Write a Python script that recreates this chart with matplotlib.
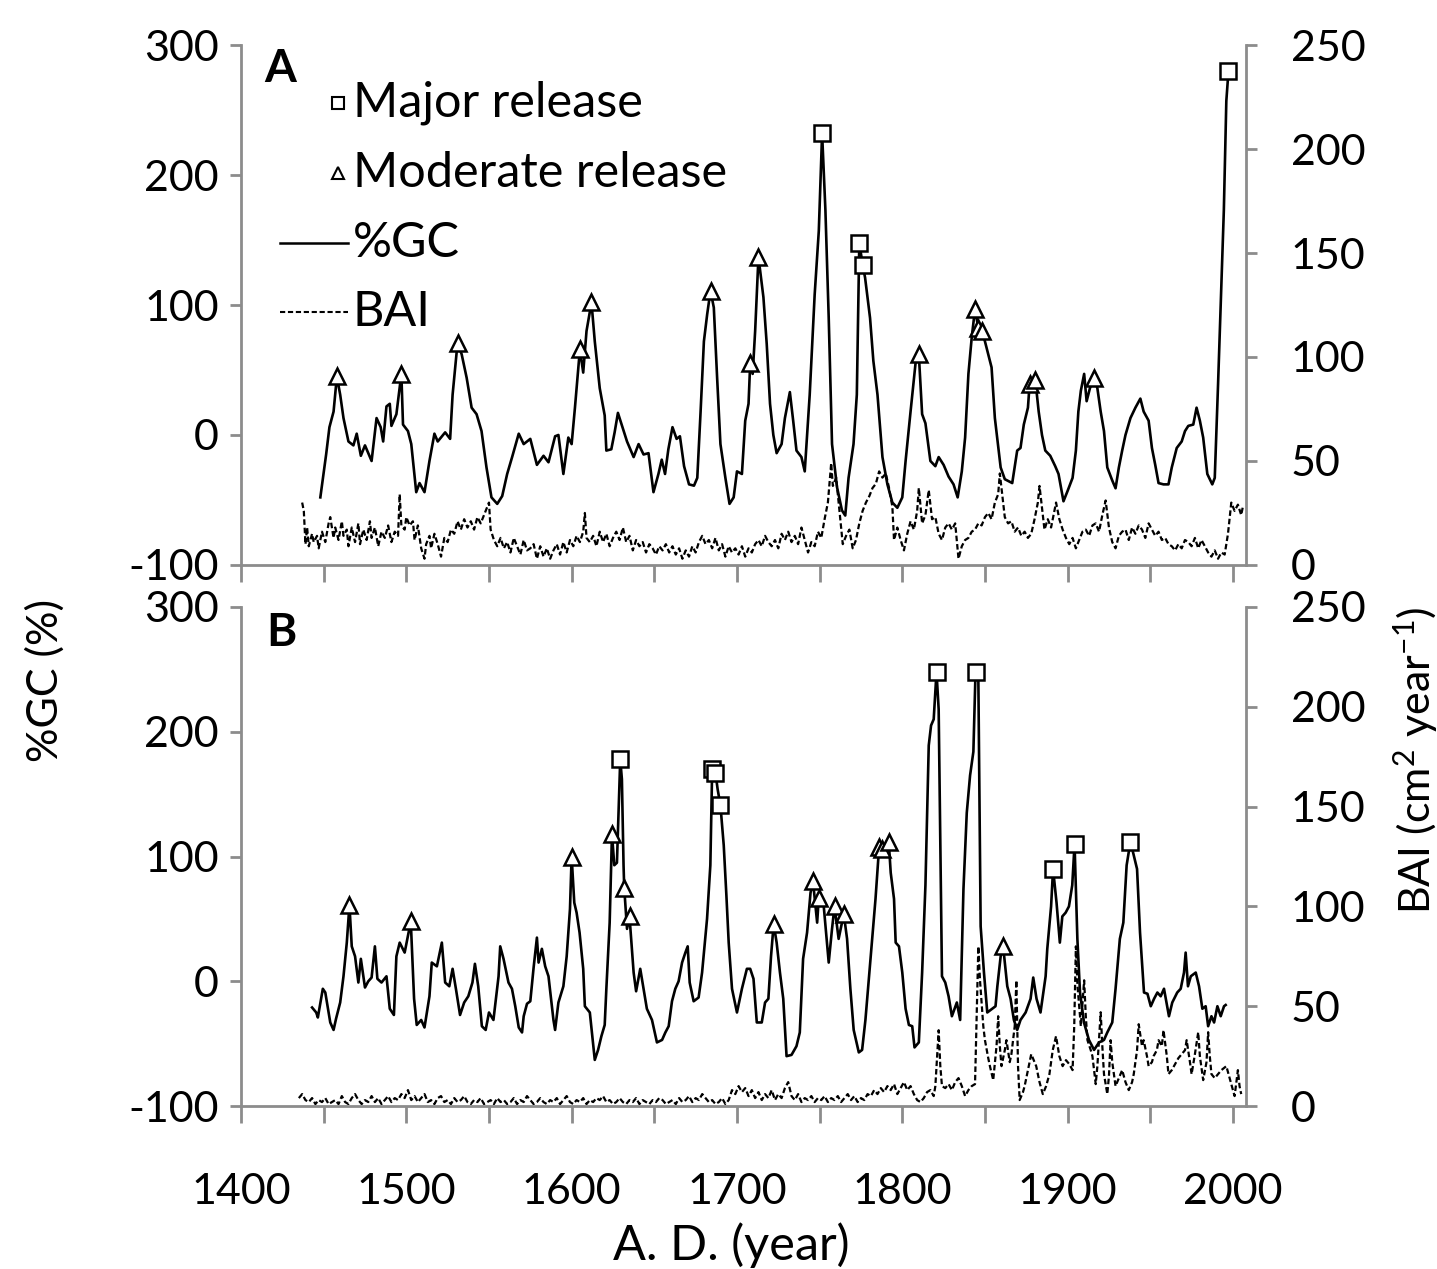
import numpy as np
import matplotlib
matplotlib.use("Agg")
import matplotlib.pyplot as plt
from matplotlib.lines import Line2D

plt.rcParams['font.family'] = ['Lato', 'DejaVu Sans']
plt.rcParams['mathtext.fontset'] = 'custom'
plt.rcParams['mathtext.rm'] = 'Lato'
plt.rcParams['mathtext.it'] = 'Lato:italic'
plt.rcParams['mathtext.bf'] = 'Lato:bold'
plt.rcParams['axes.unicode_minus'] = False

# ---- panel A : %GC (left axis) ----
gc_a_year = [1448, 1451.5, 1453.5, 1456, 1458, 1460, 1462, 1465, 1468, 1470, 1472.5, 1475, 1479, 1482, 1484.5, 1486,
             1488, 1490, 1491, 1494, 1497, 1498, 1501, 1503, 1506, 1508, 1511, 1514, 1517, 1519, 1523.5, 1526.5,
             1528, 1531, 1533.5, 1536.5, 1539.5, 1542.5, 1545.5, 1548.5, 1551.5, 1555, 1558, 1561, 1564, 1568,
             1571, 1575, 1579, 1583, 1586, 1590, 1592, 1595, 1598, 1600, 1602, 1605, 1607, 1609, 1612, 1614,
             1617, 1620, 1621, 1624, 1626, 1628, 1630, 1633.5, 1637.5, 1640.5, 1643.5, 1646.5, 1649.5, 1652.5,
             1654.5, 1656.5, 1658.5, 1661, 1663.5, 1665.5, 1668, 1671, 1674, 1676, 1678, 1680, 1682, 1684, 1686,
             1688, 1690, 1693, 1695.5, 1698, 1700, 1703, 1705, 1707, 1708, 1709.5, 1711, 1713, 1716, 1718, 1720,
             1722, 1724, 1727, 1729, 1732, 1734, 1736, 1739, 1741, 1744, 1747, 1749.5, 1751.5, 1753.5, 1755.5,
             1757.5, 1760.5, 1763.5, 1765.5, 1767.5, 1770.5, 1772.5, 1774, 1776, 1777.5, 1780.5, 1782.5, 1785,
             1788, 1791, 1794, 1797, 1800, 1802, 1805, 1808, 1810, 1812, 1814, 1817, 1820, 1822, 1825, 1828,
             1831, 1833.5, 1836, 1838, 1840, 1842, 1844, 1846, 1848, 1850, 1852, 1854, 1856, 1859.5, 1862,
             1866.5, 1869.5, 1871.5, 1873.5, 1876, 1877, 1879, 1880.5, 1882.5, 1884.5, 1886.5, 1889.5, 1892.5,
             1894.5, 1897.5, 1900, 1903, 1905, 1906.5, 1908, 1910, 1911.5, 1913.5, 1916, 1918, 1920, 1922, 1924,
             1927, 1929, 1931, 1933, 1935, 1938, 1941, 1944, 1946, 1949, 1951, 1953, 1955, 1958, 1961, 1963,
             1966, 1969, 1971, 1973, 1976, 1978, 1980, 1982, 1984.5, 1987.5, 1989, 1991, 1993, 1994.5, 1996,
             1997.3]
gc_a_val = [-48, -15, 6, 18, 45, 31, 13, -5, -8, 1, -16, -8, -20, 13, 6, -5,
            22, 24, 7, 16, 47, 8, 3, -7, -44, -37, -44, -20, 1, -5, 2, -3,
            31, 71, 62, 44, 21, 16, 3, -25, -48, -53, -47, -30, -17, 1,
            -7, -3, -23, -16, -21, -1, 0, -30, -2, -7, 21, 66, 48, 80, 102, 72,
            36, 15, -12, -11, 2, 17, 9, -5, -17, -7, -15, -14, -44, -30,
            -19, -30, -11, 6, -3, -1, -24, -38, -39, -33, 18, 72, 93, 111, 98,
            44, -7, -33, -53, -48, -28, -30, 11, 24, 55, 47, 80, 137, 106, 70, 24,
            0, -14, -7, 13, 33, 11, -12, -17, -28, 31, 108, 157, 232, 173, 90,
            -7, -40, -58, -62, -33, -7, 31, 148, 131, 121, 90, 57, 31,
            -17, -38, -52, -56, -48, -20, 18, 55, 62, 16, 9, -20, -24, -17, -23, -32,
            -38, -48, -28, -2, 47, 75, 97, 82, 80, 72, 62, 52, 13, -25, -34,
            -37, -12, -10, 8, 21, 39, 35, 42, 18, 0, -12, -16, -24,
            -30, -51, -43, -33, -12, 18, 34, 47, 26, 36, 44, 36, 18, 3, -25,
            -35, -41, -25, -12, 0, 13, 21, 28, 18, 11, -10, -23, -37, -38, -38, -25,
            -10, -5, 3, 7, 8, 21, 11, -2, -30, -38, -33, 39, 116, 173, 257,
            280]

# release markers, panel A
major_a_year = [1751.5, 1774, 1776, 1997.3]
major_a_val = [232, 148, 131, 280]
moder_a_year = [1458, 1497, 1531, 1605, 1612, 1684, 1708, 1713, 1810, 1844, 1846, 1848, 1877, 1880.5, 1916]
moder_a_val = [45, 47, 71, 66, 102, 111, 55, 137, 62, 97, 82, 80, 39, 42, 44]

# ---- panel A : BAI (right axis) ----
bai_a_year = [1437, 1438, 1439, 1440, 1441, 1443, 1444, 1446, 1447, 1449, 1451, 1453, 1454, 1456, 1457, 1459,
              1461, 1462, 1464, 1465, 1467, 1469, 1471, 1472, 1474, 1476, 1478, 1479, 1481, 1483, 1485, 1487,
              1489, 1491, 1493, 1495, 1496, 1497, 1499, 1500, 1502, 1504, 1505, 1507, 1509, 1511, 1512, 1514,
              1515, 1517, 1519, 1521, 1523, 1525, 1527, 1529, 1531, 1533, 1535, 1537, 1539, 1541, 1543, 1545,
              1547, 1549, 1550, 1551, 1553, 1555, 1557, 1559, 1561, 1563, 1565, 1567, 1569, 1571, 1573, 1575,
              1577, 1579, 1581, 1583, 1585, 1587, 1589, 1591, 1593, 1595, 1597, 1599, 1601, 1603, 1605, 1607,
              1608, 1609, 1611, 1613, 1615, 1617, 1619, 1621, 1623, 1625, 1627, 1629, 1631, 1633, 1635, 1637,
              1639, 1641, 1643, 1645, 1647, 1649, 1651, 1653, 1655, 1657, 1659, 1661, 1663, 1665, 1667, 1669,
              1671, 1673, 1675, 1677, 1679, 1681, 1683, 1685, 1687, 1689, 1691, 1693, 1695, 1697, 1699, 1701,
              1703, 1705, 1707, 1709, 1711, 1713, 1715, 1717, 1719, 1721, 1723, 1725, 1727, 1729, 1731, 1733,
              1735, 1737, 1739, 1741, 1743, 1745, 1747, 1749, 1751, 1753, 1755, 1757, 1758, 1760, 1762, 1764,
              1766, 1768, 1770, 1772, 1774, 1776, 1778, 1780, 1782, 1784, 1786, 1788, 1790, 1792, 1794, 1795,
              1797, 1799, 1801, 1803, 1805, 1807, 1809, 1810, 1812, 1814, 1816, 1818, 1820, 1822, 1824, 1826,
              1828, 1830, 1832, 1834, 1836, 1838, 1840, 1842, 1844, 1846, 1848, 1850, 1852, 1854, 1856, 1858,
              1859, 1861, 1862, 1864, 1866, 1868, 1870, 1872, 1874, 1876, 1878, 1880, 1882, 1883, 1885, 1886,
              1888, 1890, 1892, 1893, 1895, 1897, 1899, 1901, 1903, 1905, 1907, 1909, 1911, 1913, 1915, 1917,
              1919, 1921, 1923, 1925, 1927, 1929, 1931, 1933, 1935, 1937, 1939, 1941, 1943, 1945, 1947, 1949,
              1951, 1953, 1955, 1957, 1959, 1961, 1963, 1965, 1967, 1969, 1971, 1973, 1975, 1977, 1979, 1981,
              1983, 1985, 1987, 1989, 1991, 1993, 1995, 1997, 1999, 2001, 2003, 2005, 2006]
bai_a_val = [30, 26, 10, 18, 9, 15, 11, 14, 8, 16, 11, 20, 23, 13, 18, 12,
             21, 14, 17, 9, 18, 11, 20, 10, 17, 12, 21, 13, 18, 9, 16, 13,
             19, 11, 16, 14, 34, 19, 17, 23, 19, 21, 12, 19, 8, 3, 10, 14,
             8, 15, 10, 4, 13, 11, 17, 15, 21, 17, 22, 18, 21, 17, 23, 20,
             24, 28, 30, 17, 12, 9, 13, 8, 11, 6, 13, 9, 5, 12, 7, 8,
             10, 3, 9, 4, 8, 3, 7, 10, 5, 11, 6, 12, 9, 14, 11, 16,
             25, 13, 11, 14, 9, 16, 11, 15, 9, 13, 16, 12, 18, 11, 14, 7,
             12, 9, 11, 6, 10, 8, 5, 9, 7, 10, 6, 9, 5, 8, 3, 7,
             4, 9, 6, 11, 14, 10, 12, 8, 13, 7, 10, 4, 9, 6, 8, 5,
             9, 4, 8, 6, 10, 12, 9, 14, 11, 9, 12, 8, 15, 12, 16, 11,
             14, 10, 18, 12, 6, 11, 9, 16, 13, 22, 30, 49, 38, 42, 26, 10,
             14, 17, 8, 12, 20, 26, 30, 33, 37, 39, 45, 42, 44, 37, 28, 12,
             18, 12, 7, 15, 21, 17, 26, 37, 20, 24, 36, 22, 23, 15, 12, 18,
             20, 17, 20, 3, 9, 12, 13, 16, 17, 20, 19, 23, 25, 22, 30, 34,
             44, 30, 23, 20, 21, 16, 18, 14, 16, 13, 15, 22, 30, 38, 24, 17,
             22, 18, 26, 30, 22, 17, 13, 10, 13, 8, 12, 16, 17, 14, 19, 20,
             16, 24, 31, 18, 11, 8, 14, 16, 17, 12, 18, 15, 19, 17, 13, 20,
             17, 14, 16, 12, 13, 10, 9, 7, 10, 8, 12, 11, 9, 13, 8, 12,
             9, 6, 4, 7, 3, 6, 5, 15, 30, 26, 29, 24, 28]

# ---- panel B : %GC (left axis) ----
gc_b_year = [1443, 1445.5, 1446.5, 1449.5, 1451, 1454, 1456, 1457.5, 1460, 1462, 1464, 1465.6, 1467, 1469, 1471,
             1472.5, 1475, 1477, 1479, 1481, 1482.5, 1485, 1488, 1490, 1492.5, 1494, 1496, 1499, 1502.7, 1504.7,
             1506.3, 1509, 1511, 1514, 1515.4, 1518.5, 1521.5, 1523.5, 1526, 1528, 1530, 1532.5, 1535, 1537.5,
             1540, 1541.5, 1543.5, 1545.7, 1548, 1550, 1552.7, 1555.8, 1556.8, 1558.8, 1561.8, 1563.9, 1565.9,
             1568, 1570, 1571, 1573, 1575, 1577, 1579, 1580, 1582, 1584, 1586, 1589, 1590, 1592, 1595, 1597,
             1599, 1600, 1601.6, 1603, 1604.8, 1607, 1608, 1611, 1614, 1616, 1618, 1620, 1621, 1623, 1624.4,
             1625.8, 1627.4, 1629.4, 1630.4, 1631.4, 1631.8, 1633.5, 1635, 1637.5, 1639, 1641.5, 1643.5, 1645.5,
             1648.6, 1651.6, 1654.7, 1656.7, 1658.7, 1660.7, 1662.7, 1664.7, 1666.8, 1668.8, 1670.2, 1671.4,
             1673.8, 1676.8, 1678.9, 1681.9, 1683.9, 1685, 1687, 1688.3, 1690, 1692, 1693.6, 1695, 1697, 1700,
             1703, 1706, 1708, 1710, 1712, 1715, 1717, 1719, 1720.6, 1722.2, 1724, 1726, 1728, 1730, 1733, 1736,
             1738, 1740, 1742.4, 1744.5, 1746, 1748.5, 1749.5, 1752.5, 1755.5, 1757.5, 1759, 1761.5, 1764.6,
             1766.6, 1768.6, 1770.6, 1773.7, 1775.7, 1777.7, 1780.8, 1783.8, 1786, 1788, 1789.8, 1791.8, 1793,
             1795, 1796, 1798, 1800, 1802, 1804, 1806, 1807.4, 1810, 1812, 1814, 1816, 1817.4, 1819, 1820.7,
             1822, 1823, 1824, 1826, 1828, 1830, 1833, 1835, 1837, 1839, 1841, 1843, 1844.3, 1846, 1847.4,
             1849.4, 1851.4, 1854.4, 1856.4, 1857.5, 1859.5, 1861, 1863.5, 1865.5, 1867.5, 1869.5, 1871.5,
             1874.6, 1877.6, 1879.2, 1881.2, 1883.6, 1886.7, 1887.7, 1890, 1891.2, 1893.3, 1895.3, 1896.8,
             1898.8, 1900.8, 1902.8, 1904.2, 1905.9, 1907.5, 1909.9, 1912.9, 1916, 1919, 1922, 1924, 1927,
             1929, 1931.6, 1933.7, 1935.7, 1938, 1940, 1942, 1943.8, 1946.2, 1948.3, 1950.3, 1952.3, 1954.3,
             1956.3, 1958.3, 1961.3, 1963.3, 1966.3, 1968.4, 1970.4, 1971.4, 1972.8, 1974.5, 1977.5, 1979.5,
             1981.5, 1983.5, 1985, 1987, 1988.6, 1990.6, 1992.6, 1994.6, 1995.6]
gc_b_val = [-21, -25, -29, -6, -9, -33, -39, -30, -17, 4, 31, 61, 28, 20, -1,
            18, -5, 0, 3, 28, 2, -1, 4, -22, -27, 20, 31, 23, 48, -14,
            -35, -31, -37, -12, 15, 12, 31, -1, -4, 10, -6, -27, -17, -12,
            -1, 14, -4, -36, -39, -25, -31, 4, 28, 18, -1, -6, -20,
            -37, -41, -28, -18, -16, 11, 35, 15, 26, 12, 4, -31, -39, -17, -4, 20,
            58, 100, 63, 55, 39, 10, -20, -25, -63, -55, -44, -35, -6, 47, 118,
            93, 95, 178, 162, 93, 75, 42, 52, 7, -8, 10, -6, -22,
            -31, -49, -47, -41, -36, -16, -6, 0, 15, 23, 28, -1,
            -16, -13, 7, 50, 93, 170, 167, 154, 141, 109, 69, 31, -6, -25,
            -6, 10, 10, 2, -33, -33, -17, -14, 20, 46, 31, 7, -14, -60, -59, -52,
            -41, 18, 39, 71, 80, 47, 67, 60, 15, 42, 60, 34, 54,
            34, -6, -39, -57, -55, -31, 18, 66, 108, 106, 108, 112, 87,
            66, 31, 28, 7, -22, -35, -36, -53, -49, 7, 77, 189, 205, 210, 248,
            218, 114, 4, -1, -12, -28, -17, -31, 74, 135, 165, 184, 248, 243, 44,
            7, -25, -22, -20, -4, 20, 28, -4, -14, -31, -39, -31,
            -25, -14, 3, -14, -25, 4, 26, 60, 90, 63, 31, 52,
            55, 60, 77, 110, 34, -9, -33, -47, -55, -49, -47, -41, -33,
            -6, 34, 47, 93, 112, 101, 90, 39, -9, -10, -20, -14, -9,
            -12, -6, -28, -17, -9, -6, 7, 23, -4, 4, 7, -4,
            -22, -20, -36, -28, -33, -20, -28, -20, -19]

# release markers, panel B
major_b_year = [1629.4, 1685, 1687, 1690, 1820.7, 1844.3, 1891.2, 1904.2, 1938]
major_b_val = [178, 170, 167, 141, 248, 248, 90, 110, 112]
moder_b_year = [1465.6, 1502.7, 1600, 1624.4, 1631.8, 1635, 1722.2, 1746, 1749.5, 1759, 1764.6,
                1786, 1788, 1791.8, 1861]
moder_b_val = [61, 48, 100, 118, 75, 52, 46, 80, 67, 60, 54, 108, 106, 112, 28]

# ---- panel B : BAI (right axis) ----
bai_b_year = [1435, 1437, 1439, 1441, 1443, 1445, 1447, 1449, 1451, 1453, 1455, 1457, 1459, 1461, 1463, 1465,
              1467, 1469, 1471, 1473, 1475, 1477, 1479, 1481, 1483, 1485, 1487, 1489, 1491, 1493, 1495, 1497,
              1499, 1501, 1503, 1505, 1507, 1509, 1511, 1513, 1515, 1517, 1519, 1521, 1523, 1525, 1527, 1529,
              1531, 1533, 1535, 1537, 1539, 1541, 1543, 1545, 1547, 1549, 1551, 1553, 1555, 1557, 1559, 1561,
              1563, 1565, 1567, 1569, 1571, 1573, 1575, 1577, 1579, 1581, 1583, 1585, 1587, 1589, 1591, 1593,
              1595, 1597, 1599, 1601, 1603, 1605, 1607, 1609, 1611, 1613, 1615, 1617, 1619, 1621, 1623, 1625,
              1627, 1629, 1631, 1633, 1635, 1637, 1639, 1641, 1643, 1645, 1647, 1649, 1651, 1653, 1655, 1657,
              1659, 1661, 1663, 1665, 1667, 1669, 1671, 1673, 1675, 1677, 1679, 1681, 1683, 1685, 1687, 1689,
              1691, 1693, 1695, 1697, 1699, 1701, 1703, 1705, 1707, 1709, 1711, 1713, 1715, 1717, 1719, 1721,
              1723, 1725, 1727, 1729, 1731, 1733, 1735, 1737, 1739, 1741, 1743, 1745, 1747, 1749, 1751, 1753,
              1755, 1757, 1759, 1761, 1763, 1765, 1767, 1769, 1771, 1773, 1775, 1777, 1779, 1781, 1783, 1785,
              1787, 1789, 1791, 1793, 1795, 1797, 1799, 1801, 1803, 1805, 1807, 1809, 1811, 1813, 1815, 1817,
              1819, 1820, 1822, 1823, 1824, 1826, 1828, 1830, 1832, 1834, 1836, 1838, 1840, 1842, 1844, 1846,
              1847, 1849, 1850, 1852, 1853, 1855, 1857, 1858, 1859, 1860, 1862, 1863, 1865, 1866, 1868, 1869,
              1870, 1871, 1873, 1874, 1876, 1878, 1880, 1881, 1883, 1885, 1887, 1889, 1891, 1893, 1895, 1897,
              1899, 1901, 1903, 1904, 1905, 1906, 1907, 1908, 1910, 1911, 1912, 1914, 1915, 1917, 1918, 1920,
              1921, 1922, 1924, 1925, 1926, 1927, 1929, 1931, 1933, 1935, 1937, 1939, 1940, 1942, 1943, 1945,
              1946, 1948, 1949, 1951, 1952, 1954, 1955, 1957, 1958, 1960, 1961, 1963, 1965, 1967, 1969, 1971,
              1972, 1974, 1975, 1977, 1979, 1980, 1982, 1984, 1985, 1986, 1987, 1989, 1991, 1993, 1996, 1998,
              1999, 2001, 2003, 2004, 2005]
bai_b_val = [4, 6, 3, 2, 4, 1, 3, 2, 4, 1, 2, 3, 1, 5, 2, 1,
             4, 6, 3, 1, 3, 2, 5, 2, 4, 1, 3, 5, 2, 4, 3, 6,
             4, 8, 3, 5, 2, 4, 6, 2, 3, 1, 4, 5, 2, 3, 1, 4,
             2, 3, 5, 2, 1, 3, 2, 4, 1, 2, 3, 1, 4, 2, 3, 1,
             2, 4, 1, 3, 2, 5, 3, 1, 2, 4, 2, 1, 3, 2, 4, 1,
             3, 5, 2, 1, 3, 2, 4, 1, 3, 2, 4, 3, 5, 2, 3, 1,
             2, 4, 2, 1, 3, 2, 4, 1, 3, 2, 1, 3, 2, 4, 3, 1,
             2, 3, 1, 4, 2, 3, 5, 2, 4, 3, 6, 4, 2, 3, 1, 2,
             4, 1, 3, 8, 6, 10, 7, 9, 5, 8, 4, 7, 3, 6, 4, 8,
             3, 6, 4, 9, 12, 5, 3, 6, 2, 4, 3, 5, 2, 4, 3, 5,
             2, 4, 3, 5, 2, 4, 6, 3, 5, 2, 4, 3, 6, 5, 8, 6,
             9, 7, 10, 8, 11, 6, 9, 12, 8, 10, 6, 3, 2, 4, 7, 8,
             5, 10, 38, 20, 10, 9, 11, 8, 12, 14, 10, 5, 8, 10, 11, 80,
             63, 40, 33, 24, 20, 13, 30, 45, 30, 20, 28, 33, 22, 26, 40, 63,
             20, 3, 7, 10, 18, 26, 22, 20, 12, 6, 10, 16, 28, 35, 25, 20,
             23, 21, 18, 40, 80, 60, 50, 40, 63, 45, 33, 28, 25, 11, 20, 47,
             30, 16, 6, 15, 33, 22, 10, 14, 18, 12, 8, 12, 16, 28, 41, 30,
             33, 25, 20, 22, 25, 28, 33, 30, 38, 25, 16, 18, 21, 24, 26, 28,
             33, 22, 16, 26, 37, 25, 13, 22, 37, 25, 16, 14, 16, 18, 20, 14,
             11, 5, 18, 10, 6]

GREY = '#8c8c8c'
FS = 31
DASH = (0, (2.5, 1.3))

fig = plt.figure(figsize=(14.37, 12.69), dpi=100)
axA = fig.add_axes([0.1677, 0.5548, 0.6995, 0.4097])
axB = fig.add_axes([0.1677, 0.1284, 0.6995, 0.3933])


def draw_panel(ax, gc_year, gc_val, major_year, major_val, moder_year, moder_val,
               bai_year, bai_val, show_xlabels):
    ax.plot(gc_year, gc_val, color='k', lw=1.9, zorder=3)
    ax.plot(major_year, major_val, ls='none', marker='s', ms=11, mfc='white',
            mec='k', mew=1.8, zorder=4)
    ax.plot(moder_year, moder_val, ls='none', marker='^', ms=12, mfc='white',
            mec='k', mew=1.8, zorder=4)
    ax.set_xlim(1400, 2008)
    ax.set_ylim(-100, 300)
    ax.set_yticks([-100, 0, 100, 200, 300])
    ax.set_xticks(np.arange(1400, 2001, 100))
    ax.set_xticks(np.arange(1450, 2000, 100), minor=True)

    ax2 = ax.twinx()
    ax2.plot(bai_year, bai_val, color='k', lw=1.6, ls=DASH, zorder=2)
    ax2.set_ylim(0, 250)
    ax2.set_yticks([0, 50, 100, 150, 200, 250])
    ax2.set_xlim(1400, 2008)

    # %GC axes on top of the twin so the solid line sits above the dashes
    ax.set_zorder(ax2.get_zorder() + 1)
    ax.patch.set_visible(False)

    for a in (ax, ax2):
        a.spines['top'].set_visible(False)
    ax.spines['right'].set_visible(False)
    ax2.spines['left'].set_visible(False)
    ax2.spines['bottom'].set_visible(False)
    for s in ('left', 'bottom'):
        ax.spines[s].set_color(GREY)
        ax.spines[s].set_linewidth(2)
    ax2.spines['right'].set_color(GREY)
    ax2.spines['right'].set_linewidth(2)

    ax.tick_params(axis='y', direction='out', length=8, width=2, color=GREY,
                   pad=8, labelsize=FS)
    ax.tick_params(axis='x', which='both', direction='out', length=12, width=2,
                   color=GREY, pad=36, labelsize=FS, labelbottom=show_xlabels)
    ax2.tick_params(axis='y', direction='out', length=8, width=2, color=GREY,
                    pad=24, labelsize=FS)
    return ax2


draw_panel(axA, gc_a_year, gc_a_val, major_a_year, major_a_val, moder_a_year,
           moder_a_val, bai_a_year, bai_a_val, False)
draw_panel(axB, gc_b_year, gc_b_val, major_b_year, major_b_val, moder_b_year,
           moder_b_val, bai_b_year, bai_b_val, True)

# legend of panel A, laid out by hand (markers sit right next to the text)
LFS = 35
leg_rows = [0.9188, 0.8637, 0.8085, 0.7541]
leg_labels = ['Major release', 'Moderate release', '%GC', 'BAI']
fig.add_artist(Line2D([0.2352], [leg_rows[0]], transform=fig.transFigure, ls='none',
                      marker='s', ms=8, mfc='white', mec='k', mew=1.5))
fig.add_artist(Line2D([0.2352], [leg_rows[1]], transform=fig.transFigure, ls='none',
                      marker='^', ms=8, mfc='white', mec='k', mew=1.5))
fig.add_artist(Line2D([0.1949, 0.2422], [leg_rows[2]] * 2, transform=fig.transFigure,
                      color='k', lw=1.8))
fig.add_artist(Line2D([0.1949, 0.2422], [leg_rows[3]] * 2, transform=fig.transFigure,
                      color='k', lw=1.5, ls=DASH))
for yy, lab in zip(leg_rows, leg_labels):
    fig.text(0.2455, yy, lab, fontsize=LFS, ha='left', va='center')

fig.text(0.195, 0.946, 'A', fontsize=33, fontweight='bold', ha='center', va='center')
fig.text(0.196, 0.501, 'B', fontsize=33, fontweight='bold', ha='center', va='center')

fig.text(0.031, 0.464, '%GC (%)', rotation=90, fontsize=FS, ha='center', va='center')
fig.text(0.985, 0.401, 'BAI (cm$^{2}$ year$^{-1}$)', rotation=90, fontsize=FS,
         ha='center', va='center')
fig.text(0.509, 0.019, 'A. D. (year)', fontsize=35, ha='center', va='center')

fig.savefig('out.png', dpi=100)
